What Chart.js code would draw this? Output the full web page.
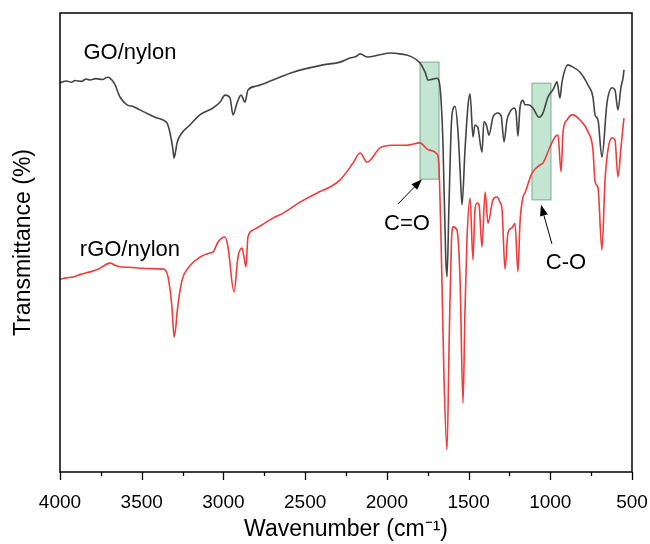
<!DOCTYPE html>
<html>
<head>
<meta charset="utf-8">
<script src="https://cdn.jsdelivr.net/npm/chart.js@4/dist/chart.umd.min.js"></script>
<style>
  html, body { margin: 0; padding: 0; background: #fff; }
  #wrap { width: 650px; height: 544px; }
</style>
</head>
<body>
<div id="wrap"><canvas id="c" width="650" height="544"></canvas></div>
<script>
// [wavenumber (cm-1), transmittance (%)]
const goNylon = [
  [4000,84.8],[3960,85.2],[3930,84.9],[3908,85.3],[3870,85.1],[3840,85.6],[3816,85.4],[3780,85.7],
  [3740,85.5],[3710,86.0],[3694,85.8],[3665,84.5],[3633,81.7],[3590,80.0],[3550,79.6],[3511,78.9],
  [3460,78.0],[3406,77.1],[3345,76.0],[3327,73.9],[3310,70.5],[3302,68.4],[3292,70.0],[3284,71.7],
  [3253,73.9],[3205,75.6],[3144,77.8],[3064,79.3],[3020,80.6],[2990,82.1],[2960,81.5],[2941,77.8],
  [2917,80.4],[2892,82.1],[2868,80.6],[2850,83.2],[2795,84.1],[2697,85.4],[2574,87.1],[2391,88.7],
  [2287,89.3],[2226,90.2],[2190,90.5],[2164,91.1],[2121,90.4],[2042,90.9],[1981,91.3],[1920,91.1],
  [1858,90.6],[1797,89.1],[1765,87.0],[1748,85.4],[1720,85.6],[1693,85.8],[1675,83.9],[1657,72.0],
  [1640,47.0],[1632,42.5],[1620,58.0],[1605,76.0],[1590,79.5],[1583,79.7],[1565,74.3],[1552,65.8],
  [1540,58.2],[1522,70.1],[1503,80.0],[1491,82.4],[1473,73.0],[1461,75.6],[1448,75.3],[1442,74.9],
  [1418,69.7],[1406,76.3],[1390,75.5],[1375,73.4],[1351,77.3],[1320,78.2],[1300,77.5],[1283,71.9],
  [1265,76.7],[1247,78.4],[1222,79.3],[1210,78.5],[1198,73.2],[1185,79.5],[1167,81.0],[1155,80.0],
  [1136,80.0],[1106,79.3],[1069,77.3],[1045,78.2],[1014,81.7],[980,83.5],[959,85.0],[941,81.5],
  [928,85.0],[892,88.7],[861,88.2],[818,87.1],[769,84.3],[739,81.7],[726,77.8],[708,76.7],
  [684,68.6],[653,80.4],[622,83.7],[604,83.2],[586,78.9],[567,83.9],[555,85.8],[549,87.6]
];

const rgoNylon = [
  [4000,42.0],[3960,42.3],[3920,42.5],[3880,43.0],[3816,43.6],[3760,44.3],[3694,45.5],[3660,45.0],
  [3633,44.7],[3580,44.6],[3511,44.4],[3450,44.3],[3370,44.2],[3339,42.5],[3315,35.9],[3302,29.4],
  [3290,32.0],[3284,34.6],[3253,41.8],[3217,44.4],[3144,46.8],[3083,47.7],[3064,47.9],[3033,50.1],
  [2990,51.2],[2972,49.0],[2935,39.2],[2911,46.8],[2886,48.8],[2874,46.8],[2862,44.7],[2850,51.2],
  [2819,52.7],[2697,55.3],[2635,56.4],[2531,58.8],[2427,60.8],[2348,62.1],[2287,63.6],[2207,67.3],
  [2164,69.5],[2121,67.5],[2042,70.6],[1969,71.2],[1877,71.2],[1797,71.7],[1748,70.2],[1693,69.3],
  [1681,66.4],[1665,45.0],[1650,20.0],[1632,4.8],[1618,30.0],[1605,50.0],[1595,53.4],[1571,52.7],
  [1552,41.8],[1534,15.0],[1522,35.0],[1510,50.5],[1491,59.7],[1473,46.2],[1461,57.1],[1448,58.6],
  [1436,58.2],[1418,49.0],[1399,61.0],[1381,54.2],[1351,59.3],[1326,59.9],[1308,58.8],[1295,57.1],
  [1277,44.2],[1259,52.1],[1234,53.2],[1216,54.2],[1198,43.6],[1185,54.5],[1167,59.9],[1155,60.8],
  [1112,65.1],[1063,66.9],[1045,67.3],[1002,70.8],[971,73.0],[953,73.4],[934,65.4],[922,74.1],
  [898,76.7],[867,77.8],[818,76.7],[769,74.1],[739,70.2],[726,63.2],[708,61.9],[684,48.4],
  [665,63.6],[647,70.2],[622,72.8],[604,72.3],[586,64.3],[567,70.8],[555,75.2],[549,77.1]
];

// highlighted bands: [high wavenumber, low wavenumber, top %, bottom %]
const bands = [
  [1797, 1681, 89.3, 63.8],
  [1112, 996, 84.7, 59.3]
];

const xMajorTicks = [4000, 3500, 3000, 2500, 2000, 1500, 1000, 500];

const FONT = '"Liberation Sans", Arial, sans-serif';

// text + arrows, anchored in data units
const notes = {
  labels: [
    { text: 'GO/nylon', x: 3572, y: 91.3 },
    { text: 'rGO/nylon', x: 3572, y: 48.4 },
    { text: 'C=O', x: 1877, y: 54.0 },
    { text: 'C-O', x: 904, y: 45.5 }
  ],
  arrows: [
    { from: [1932, 58.4], to: [1785, 63.8] },
    { from: [990, 49.7], to: [1057, 58.2] }
  ]
};

const decor = {
  id: 'decor',
  beforeDatasetsDraw(chart) {
    const { ctx, scales: { x, y } } = chart;
    ctx.save();
    for (const [a, b, t, btm] of bands) {
      const x0 = x.getPixelForValue(a), x1 = x.getPixelForValue(b);
      const y0 = y.getPixelForValue(t), y1 = y.getPixelForValue(btm);
      ctx.fillStyle = 'rgba(170, 220, 192, 0.7)';
      ctx.fillRect(x0, y0, x1 - x0, y1 - y0);
      ctx.strokeStyle = '#8fb39c';
      ctx.lineWidth = 1.2;
      ctx.strokeRect(x0, y0, x1 - x0, y1 - y0);
    }
    ctx.restore();
  },
  afterDraw(chart) {
    const { ctx, chartArea: a, scales: { x, y } } = chart;
    ctx.save();
    // frame
    ctx.strokeStyle = '#000';
    ctx.lineWidth = 1.5;
    ctx.strokeRect(a.left, a.top, a.right - a.left, a.bottom - a.top);
    // bottom tick marks, major + minor
    ctx.lineWidth = 1.3;
    for (let v = 500; v <= 4000; v += 250) {
      const px = Math.round(x.getPixelForValue(v)) + 0.5;
      const len = v % 500 === 0 ? 8 : 4;
      ctx.beginPath();
      ctx.moveTo(px, a.bottom);
      ctx.lineTo(px, a.bottom + len);
      ctx.stroke();
    }
    // labels
    ctx.fillStyle = '#000';
    ctx.font = '22px ' + FONT;
    ctx.textAlign = 'center';
    ctx.textBaseline = 'middle';
    for (const l of notes.labels) {
      ctx.fillText(l.text, x.getPixelForValue(l.x), y.getPixelForValue(l.y));
    }
    // arrows
    ctx.lineWidth = 1;
    for (const ar of notes.arrows) {
      const x0 = x.getPixelForValue(ar.from[0]), y0 = y.getPixelForValue(ar.from[1]);
      const x1 = x.getPixelForValue(ar.to[0]), y1 = y.getPixelForValue(ar.to[1]);
      const ang = Math.atan2(y1 - y0, x1 - x0);
      const hl = 11, hw = 4;
      ctx.beginPath();
      ctx.moveTo(x0, y0);
      ctx.lineTo(x1 - Math.cos(ang) * hl, y1 - Math.sin(ang) * hl);
      ctx.stroke();
      ctx.beginPath();
      ctx.moveTo(x1, y1);
      ctx.lineTo(x1 - Math.cos(ang) * hl + Math.sin(ang) * hw, y1 - Math.sin(ang) * hl - Math.cos(ang) * hw);
      ctx.lineTo(x1 - Math.cos(ang) * hl - Math.sin(ang) * hw, y1 - Math.sin(ang) * hl + Math.cos(ang) * hw);
      ctx.closePath();
      ctx.fill();
    }
    ctx.restore();
  }
};

Chart.defaults.font.family = FONT;
Chart.defaults.color = '#000';

new Chart(document.getElementById('c'), {
  type: 'line',
  data: {
    datasets: [
      { label: 'GO/nylon', data: goNylon, borderColor: '#444444', borderWidth: 1.6 },
      { label: 'rGO/nylon', data: rgoNylon, borderColor: '#f03c3c', borderWidth: 1.6 }
    ]
  },
  options: {
    responsive: false,
    animation: false,
    parsing: true,
    elements: { point: { radius: 0 }, line: { cubicInterpolationMode: 'monotone', fill: false } },
    layout: { padding: { top: 13, right: 18, left: 0, bottom: 0 } },
    plugins: { legend: { display: false }, tooltip: { enabled: false } },
    scales: {
      x: {
        type: 'linear',
        reverse: true,
        min: 500,
        max: 4000,
        grid: { display: false },
        border: { display: false },
        afterBuildTicks: s => { s.ticks = xMajorTicks.map(v => ({ value: v })); },
        ticks: { font: { size: 19 }, padding: 11, maxRotation: 0, autoSkip: false, callback: v => String(v) },
        title: { display: true, text: 'Wavenumber (cm\u207B\u00B9)', font: { size: 23 }, padding: { top: 0, bottom: 1 } },
        afterFit: s => { s.height = 72; s.paddingLeft = 0; s.paddingRight = 0; }
      },
      y: {
        type: 'linear',
        min: 0,
        max: 100,
        grid: { display: false },
        border: { display: false },
        ticks: { display: false },
        title: { display: true, text: 'Transmittance (%)', font: { size: 23 }, padding: { top: 10, bottom: 0 } },
        afterFit: s => { s.width = 60; }
      }
    }
  },
  plugins: [decor]
});
</script>
</body>
</html>
